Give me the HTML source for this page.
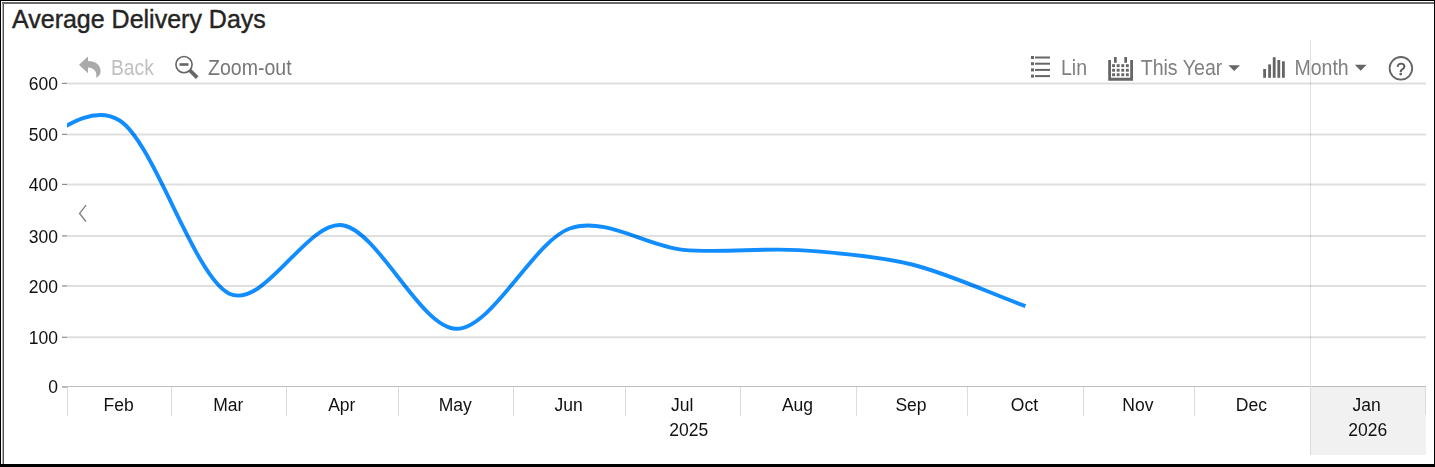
<!DOCTYPE html>
<html><head><meta charset="utf-8"><style>
html,body{margin:0;padding:0;background:#fff;}
body{width:1435px;height:467px;position:relative;overflow:hidden;font-family:"Liberation Sans",sans-serif;}
.b{position:absolute;}
svg{position:absolute;left:0;top:0;will-change:transform;}
.ax{font-family:"Liberation Sans",sans-serif;font-size:17.5px;fill:#111;}
.tb{font-family:"Liberation Sans",sans-serif;font-size:21.5px;}
.hp{font-family:"Liberation Sans",sans-serif;font-size:17px;}
.title{position:absolute;left:12px;top:3px;font-size:25px;color:#252423;white-space:nowrap;line-height:32px;-webkit-text-stroke:0.4px #252423;}
</style></head><body>
<div class="b" style="left:0;top:0;width:1435px;height:1px;background:#000"></div>
<div class="b" style="left:0;top:0;width:1px;height:467px;background:#000"></div>
<div class="b" style="left:1434px;top:0;width:1px;height:467px;background:#000"></div>
<div class="b" style="left:0;top:464px;width:1435px;height:3px;background:#000"></div>
<div class="b" style="left:2px;top:2px;width:1432px;height:2px;background:#6b6b6b"></div>
<div class="b" style="left:2px;top:4px;width:1px;height:460px;background:#b0b0b0"></div>
<div class="b" style="left:3px;top:4px;width:1px;height:460px;background:#525252"></div>
<div class="title">Average Delivery Days</div>
<svg width="1435" height="467" viewBox="0 0 1435 467">
<rect x="1311" y="387" width="114.8" height="68" fill="#f1f1f1"/>
<line x1="62" y1="337.30" x2="67" y2="337.30" stroke="#8c8c8c" stroke-width="1.2"/>
<text x="58" y="343.90" text-anchor="end" class="ax">100</text>
<line x1="62" y1="285.90" x2="67" y2="285.90" stroke="#8c8c8c" stroke-width="1.2"/>
<text x="58" y="292.50" text-anchor="end" class="ax">200</text>
<line x1="62" y1="235.90" x2="67" y2="235.90" stroke="#8c8c8c" stroke-width="1.2"/>
<text x="58" y="242.50" text-anchor="end" class="ax">300</text>
<line x1="62" y1="184.40" x2="67" y2="184.40" stroke="#8c8c8c" stroke-width="1.2"/>
<text x="58" y="191.00" text-anchor="end" class="ax">400</text>
<line x1="62" y1="134.40" x2="67" y2="134.40" stroke="#8c8c8c" stroke-width="1.2"/>
<text x="58" y="141.00" text-anchor="end" class="ax">500</text>
<line x1="62" y1="83.40" x2="67" y2="83.40" stroke="#8c8c8c" stroke-width="1.2"/>
<text x="58" y="90.00" text-anchor="end" class="ax">600</text>
<text x="58" y="393.3" text-anchor="end" class="ax">0</text>
<line x1="62" y1="387" x2="67" y2="387" stroke="#8c8c8c" stroke-width="1.2"/>
<line x1="67" y1="386.5" x2="1426" y2="386.5" stroke="#bebebe" stroke-width="1"/>
<line x1="1310.5" y1="40" x2="1310.5" y2="387" stroke="#e2e2e2" stroke-width="1"/>
<line x1="67.5" y1="387" x2="67.5" y2="416" stroke="#dcdcdc" stroke-width="1"/>
<line x1="171.5" y1="387" x2="171.5" y2="416" stroke="#dcdcdc" stroke-width="1"/>
<line x1="286.5" y1="387" x2="286.5" y2="416" stroke="#dcdcdc" stroke-width="1"/>
<line x1="398.5" y1="387" x2="398.5" y2="416" stroke="#dcdcdc" stroke-width="1"/>
<line x1="513.5" y1="387" x2="513.5" y2="416" stroke="#dcdcdc" stroke-width="1"/>
<line x1="625.5" y1="387" x2="625.5" y2="416" stroke="#dcdcdc" stroke-width="1"/>
<line x1="740.5" y1="387" x2="740.5" y2="416" stroke="#dcdcdc" stroke-width="1"/>
<line x1="856.5" y1="387" x2="856.5" y2="416" stroke="#dcdcdc" stroke-width="1"/>
<line x1="967.5" y1="387" x2="967.5" y2="416" stroke="#dcdcdc" stroke-width="1"/>
<line x1="1083.5" y1="387" x2="1083.5" y2="416" stroke="#dcdcdc" stroke-width="1"/>
<line x1="1194.5" y1="387" x2="1194.5" y2="416" stroke="#dcdcdc" stroke-width="1"/>
<line x1="1310.5" y1="387" x2="1310.5" y2="455" stroke="#dcdcdc" stroke-width="1"/>
<line x1="1425.5" y1="387" x2="1425.5" y2="415" stroke="#dcdcdc" stroke-width="1"/>
<text x="118.58" y="411" text-anchor="middle" class="ax">Feb</text>
<text x="228.32" y="411" text-anchor="middle" class="ax">Mar</text>
<text x="341.78" y="411" text-anchor="middle" class="ax">Apr</text>
<text x="455.25" y="411" text-anchor="middle" class="ax">May</text>
<text x="568.71" y="411" text-anchor="middle" class="ax">Jun</text>
<text x="682.17" y="411" text-anchor="middle" class="ax">Jul</text>
<text x="797.49" y="411" text-anchor="middle" class="ax">Aug</text>
<text x="910.95" y="411" text-anchor="middle" class="ax">Sep</text>
<text x="1024.42" y="411" text-anchor="middle" class="ax">Oct</text>
<text x="1137.88" y="411" text-anchor="middle" class="ax">Nov</text>
<text x="1251.34" y="411" text-anchor="middle" class="ax">Dec</text>
<text x="1366.66" y="411" text-anchor="middle" class="ax">Jan</text>
<text x="688.75" y="436" text-anchor="middle" class="ax">2025</text>
<text x="1367.66" y="436" text-anchor="middle" class="ax">2026</text>
<clipPath id="cp"><rect x="67" y="40" width="1360" height="347"/></clipPath>
<path d="M9.84,157.42 C44.25,145.84 85.17,99.12 119.58,120.48 C154.00,141.84 194.32,277.22 229.32,293.65 C264.32,310.07 307.20,219.72 342.78,225.23 C378.37,230.75 420.67,328.31 456.25,328.81 C491.83,329.32 534.13,240.85 569.71,228.47 C605.29,216.09 647.30,246.43 683.17,249.83 C719.04,253.23 762.62,247.84 798.49,250.14 C834.36,252.44 876.37,255.72 911.95,264.50 C947.53,273.28 989.83,293.08 1025.42,306.13" fill="none" stroke="#118dff" stroke-width="3.9" stroke-linecap="butt" clip-path="url(#cp)"/>
<line x1="67" y1="337.30" x2="1426" y2="337.30" stroke="#000" stroke-opacity="0.125" stroke-width="2"/>
<line x1="67" y1="285.90" x2="1426" y2="285.90" stroke="#000" stroke-opacity="0.125" stroke-width="2"/>
<line x1="67" y1="235.90" x2="1426" y2="235.90" stroke="#000" stroke-opacity="0.125" stroke-width="2"/>
<line x1="67" y1="184.40" x2="1426" y2="184.40" stroke="#000" stroke-opacity="0.125" stroke-width="2"/>
<line x1="67" y1="134.40" x2="1426" y2="134.40" stroke="#000" stroke-opacity="0.125" stroke-width="2"/>
<line x1="67" y1="83.40" x2="1426" y2="83.40" stroke="#000" stroke-opacity="0.125" stroke-width="2"/>
<polyline points="86.1,205.1 79.6,213.4 86.1,221.6" fill="none" stroke="#808080" stroke-width="1.4"/>
<path d="M79,64.8 L88,56.4 V61 C95.5,61 100.6,65 100.6,71.2 C100.6,74.3 98.8,76.5 96,78 C97.6,73 94.5,67.6 88,67.6 V73.2 Z" fill="#aaaaaa"/>
<text x="111.0" y="75" class="tb" fill="#c0c0c0" textLength="42.9" lengthAdjust="spacingAndGlyphs">Back</text>
<circle cx="184" cy="64.6" r="8.1" fill="none" stroke="#666" stroke-width="1.6"/>
<rect x="179.5" y="63.2" width="9" height="2.6" fill="#666"/>
<line x1="189.5" y1="70" x2="197.2" y2="77.7" stroke="#666" stroke-width="3.8"/>
<text x="208.0" y="75" class="tb" fill="#777" textLength="83.6" lengthAdjust="spacingAndGlyphs">Zoom-out</text>
<rect x="1031" y="56.0" width="3" height="3" fill="#666"/>
<rect x="1035" y="56.5" width="15" height="2" fill="#666"/>
<rect x="1031" y="62.2" width="3" height="3" fill="#666"/>
<rect x="1035" y="62.7" width="15" height="2" fill="#666"/>
<rect x="1031" y="68.4" width="3" height="3" fill="#666"/>
<rect x="1035" y="68.9" width="15" height="2" fill="#666"/>
<rect x="1031" y="74.6" width="3" height="3" fill="#666"/>
<rect x="1035" y="75.1" width="15" height="2" fill="#666"/>
<text x="1061.0" y="75" class="tb" fill="#808080" textLength="26.1" lengthAdjust="spacingAndGlyphs">Lin</text>
<path d="M1108.2,60 h2.8 v17.8 h19.2 v-17.8 h2.8 v20.8 h-24.8 Z" fill="#666"/>
<rect x="1114" y="57" width="2.7" height="5.8" fill="#666"/>
<rect x="1124.3" y="57" width="2.7" height="5.8" fill="#666"/>
<rect x="1112.1" y="64.2" width="2.9" height="2.9" fill="#666"/>
<rect x="1116.7" y="64.2" width="2.9" height="2.9" fill="#666"/>
<rect x="1121.3" y="64.2" width="2.9" height="2.9" fill="#666"/>
<rect x="1125.9" y="64.2" width="2.9" height="2.9" fill="#666"/>
<rect x="1112.1" y="68.8" width="2.9" height="2.9" fill="#666"/>
<rect x="1116.7" y="68.8" width="2.9" height="2.9" fill="#666"/>
<rect x="1121.3" y="68.8" width="2.9" height="2.9" fill="#666"/>
<rect x="1125.9" y="68.8" width="2.9" height="2.9" fill="#666"/>
<rect x="1112.1" y="73.3" width="2.9" height="2.9" fill="#666"/>
<rect x="1116.7" y="73.3" width="2.9" height="2.9" fill="#666"/>
<rect x="1121.3" y="73.3" width="2.9" height="2.9" fill="#666"/>
<rect x="1125.9" y="73.3" width="2.9" height="2.9" fill="#666"/>
<text x="1140.7" y="75" class="tb" fill="#808080" textLength="81.6" lengthAdjust="spacingAndGlyphs">This Year</text>
<path d="M1228.4,65.2 h11.6 l-5.8,5.8 Z" fill="#666"/>
<rect x="1263.2" y="69" width="2.8" height="8.8" fill="#666"/>
<rect x="1268.2" y="64.4" width="2.8" height="13.4" fill="#666"/>
<rect x="1272.8" y="57.2" width="2.8" height="20.6" fill="#666"/>
<rect x="1277.4" y="60" width="2.8" height="17.8" fill="#666"/>
<rect x="1282" y="61.3" width="2.8" height="16.5" fill="#666"/>
<text x="1294.5" y="75" class="tb" fill="#808080" textLength="54.2" lengthAdjust="spacingAndGlyphs">Month</text>
<path d="M1354.8,64.8 h11.8 l-5.9,6 Z" fill="#666"/>
<circle cx="1400.9" cy="68.3" r="11.3" fill="none" stroke="#666" stroke-width="1.8"/>
<text x="1401" y="74.6" text-anchor="middle" class="hp" fill="#555" stroke="#555" stroke-width="0.5">?</text>
</svg>
</body></html>
